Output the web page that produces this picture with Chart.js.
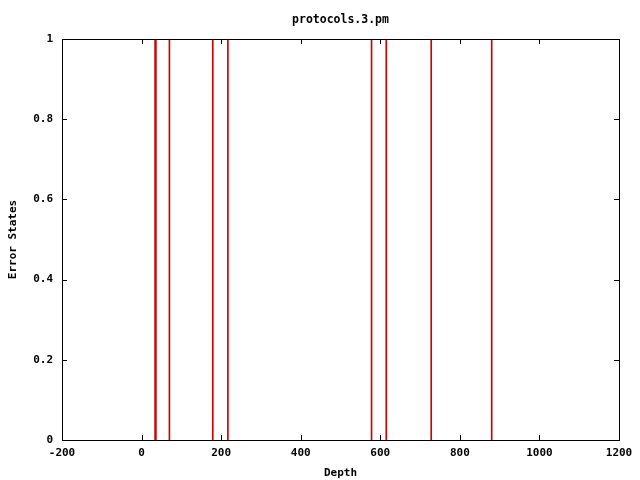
<!DOCTYPE html>
<html>
<head>
<meta charset="utf-8">
<script src="https://cdn.jsdelivr.net/npm/chart.js@4"></script>
<style>
  html, body { margin: 0; padding: 0; background: #fff; }
  #wrap { width: 640px; height: 480px; }
</style>
</head>
<body>
<div id="wrap"><canvas id="chart" width="640" height="480"></canvas></div>
<script>
// depths where an error state was hit
const depths = [34, 36, 70, 179, 217, 578, 615, 728, 880];
const errorValues = [1, 1, 1, 1, 1, 1, 1, 1, 1];
const xTicks = [-200, 0, 200, 400, 600, 800, 1000, 1200];
const yTicks = [0, 0.2, 0.4, 0.6, 0.8, 1];
const chartTitle = 'protocols.3.pm';

const fontFamily = '"DejaVu Sans Mono", "Liberation Mono", monospace';
const monoFont = { family: fontFamily, size: 11, weight: 'bold' };

// gnuplot-like frame, inward ticks on all four sides, title over the plot area
const gnuplotFrame = {
    id: 'gnuplotFrame',
    afterDraw(chart) {
        const { ctx, chartArea: a, scales } = chart;
        const len = 5;
        ctx.save();
        ctx.strokeStyle = '#000';
        ctx.lineWidth = 1;
        ctx.beginPath();
        xTicks.forEach(v => {
            const px = Math.round(scales.x.getPixelForValue(v)) + 0.5;
            ctx.moveTo(px, a.bottom); ctx.lineTo(px, a.bottom - len);
            ctx.moveTo(px, a.top); ctx.lineTo(px, a.top + len);
        });
        yTicks.forEach(v => {
            const py = Math.round(scales.y.getPixelForValue(v)) + 0.5;
            ctx.moveTo(a.left, py); ctx.lineTo(a.left + len, py);
            ctx.moveTo(a.right, py); ctx.lineTo(a.right - len, py);
        });
        ctx.stroke();
        ctx.strokeRect(Math.round(a.left) + 0.5, Math.round(a.top) + 0.5,
                       Math.round(a.right - a.left), Math.round(a.bottom - a.top));

        ctx.fillStyle = '#000';
        ctx.font = 'bold 11.5px ' + fontFamily;
        ctx.textAlign = 'center';
        ctx.textBaseline = 'middle';
        ctx.fillText(chartTitle, (a.left + a.right) / 2, 20);
        ctx.restore();
    }
};

new Chart(document.getElementById('chart'), {
    type: 'bar',
    data: {
        datasets: [{
            data: depths.map((d, i) => ({ x: d, y: errorValues[i] })),
            backgroundColor: '#d00000',
            borderWidth: 0,
            barThickness: 1
        }]
    },
    options: {
        responsive: false,
        animation: false,
        layout: { padding: { left: 0, right: 21, top: 39, bottom: 0 } },
        plugins: {
            legend: { display: false },
            tooltip: { enabled: false },
            title: { display: false }
        },
        scales: {
            x: {
                type: 'linear',
                min: -200,
                max: 1200,
                offset: false,
                afterBuildTicks: s => { s.ticks = xTicks.map(v => ({ value: v })); },
                afterFit: s => { s.height = 40; },
                grid: { display: false, drawTicks: false, offset: false },
                border: { display: false },
                ticks: { color: '#000', font: monoFont, padding: 7, maxRotation: 0, autoSkip: false,
                         callback: v => String(v) },
                title: { display: true, text: 'Depth', color: '#000', font: monoFont, padding: { top: 0, bottom: 0 } }
            },
            y: {
                min: 0,
                max: 1,
                afterBuildTicks: s => { s.ticks = yTicks.map(v => ({ value: v })); },
                afterFit: s => { s.width = 62; },
                grid: { display: false, drawTicks: false },
                border: { display: false },
                ticks: { color: '#000', font: monoFont, padding: 9, autoSkip: false,
                         callback: v => String(v) },
                title: { display: true, text: 'Error States', color: '#000', font: monoFont, padding: { top: 7, bottom: 0 } }
            }
        }
    },
    plugins: [gnuplotFrame]
});
</script>
</body>
</html>
